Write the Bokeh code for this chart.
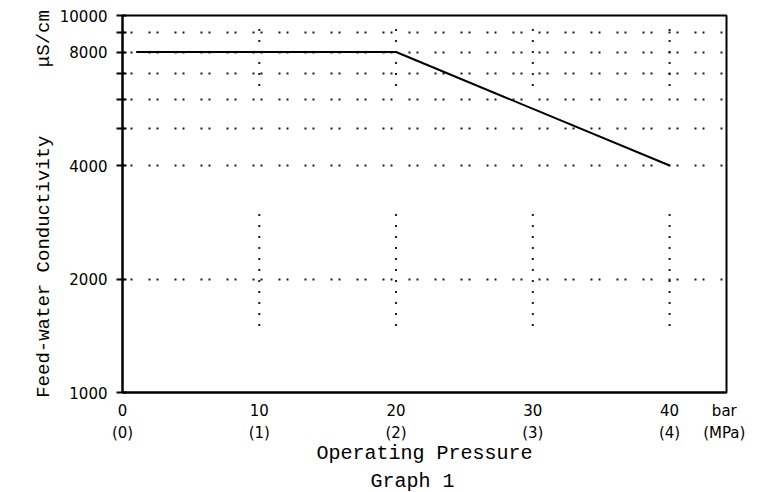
from bokeh.plotting import figure
from bokeh.models import Range1d, FixedTicker, LinearAxis, Title
from bokeh.embed import file_html
from bokeh.resources import INLINE

# ---- data ----
pressure_bar = [1, 20, 40]
conductivity = [8000, 8000, 4000]

x_ticks = [0, 10, 20, 30, 40, 44]
x_labels_bar = ["0", "10", "20", "30", "40", "bar"]
x_labels_mpa = ["(0)", "(1)", "(2)", "(3)", "(4)", "(MPa)"]

y_ticks = [1000, 2000, 4000, 5000, 6000, 7000, 8000, 9000, 10000]
y_labels = ["1000", "2000", "4000", "", "", "", "8000", "", "10000"]
y_grid_values = [2000, 4000, 5000, 6000, 7000, 8000, 9000]

vert_x = [10, 20, 30, 40]
vert_upper_lo = [6500, 6500, 6500, 6500]
vert_upper_hi = [9700, 9700, 9700, 9700]
vert_lower_lo = [1500, 1500, 1500, 1500]
vert_lower_hi = [3000, 3000, 3000, 3000]

y_title = "Feed-water Conductivity"
y_unit = "μS/cm"
x_title = "Operating Pressure"
caption = "Graph 1"

NB = "\u00a0"
X_MAX = 44.16

p = figure(width=758, height=492,
           x_range=Range1d(0, X_MAX), y_range=Range1d(1000, 10000),
           y_axis_type="log", output_backend="svg", toolbar_location=None,
           min_border_left=122, min_border_right=32, min_border_top=15,
           min_border_bottom=100)

p.outline_line_color = "black"
p.outline_line_width = 2
p.background_fill_color = "white"
p.border_fill_color = "white"

# grids
p.xgrid.visible = False
p.ygrid.ticker = FixedTicker(ticks=y_grid_values)
p.ygrid.grid_line_color = "#1a1a1a"
p.ygrid.grid_line_width = 2
p.ygrid.grid_line_dash = "2 6 2 16"

# vertical dotted segments
p.segment(x0=vert_x, y0=vert_upper_lo, x1=vert_x, y1=vert_upper_hi,
          line_color="#1a1a1a", line_width=2, line_dash="2 9")
p.segment(x0=vert_x, y0=vert_lower_lo, x1=vert_x, y1=vert_lower_hi,
          line_color="#1a1a1a", line_width=2, line_dash="2 9")

# main line
p.line(pressure_bar, conductivity, line_color="black", line_width=2)

mono = "Liberation Mono"

# y axis
ya = p.yaxis[0]
ya.ticker = FixedTicker(ticks=y_ticks)
ya.major_label_overrides = {t: l for t, l in zip(y_ticks, y_labels)}
ya.major_tick_in = 4
ya.major_tick_out = 6
ya.minor_tick_line_color = None
ya.axis_line_width = 2
ya.major_tick_line_width = 2
ya.major_label_text_font = "DejaVu Sans"
ya.major_label_text_font_size = "15px"
ya.major_label_text_color = "black"
ya.major_label_standoff = 9
ya.axis_label = y_title + NB * 6 + y_unit
ya.axis_label_text_font = mono
ya.axis_label_text_font_size = "19px"
ya.axis_label_text_font_style = "normal"
ya.axis_label_text_color = "black"
ya.axis_label_standoff = 2

# x axes (two stacked rows of labels)
xa = p.xaxis[0]
xa.ticker = FixedTicker(ticks=x_ticks)
xa.major_label_overrides = {t: l for t, l in zip(x_ticks, x_labels_bar)}
xa.major_tick_in = 0
xa.major_tick_out = 0
xa.minor_tick_line_color = None
xa.axis_line_width = 2
xa.major_label_text_font = "DejaVu Sans"
xa.major_label_text_font_size = "15px"
xa.major_label_text_color = "black"
xa.major_label_standoff = 9

xa2 = LinearAxis(ticker=FixedTicker(ticks=x_ticks),
                 major_label_overrides={t: l for t, l in zip(x_ticks, x_labels_mpa)})
xa2.axis_line_color = None
xa2.major_tick_line_color = None
xa2.major_tick_in = 0
xa2.major_tick_out = 0
xa2.minor_tick_line_color = None
xa2.major_label_text_font = "DejaVu Sans"
xa2.major_label_text_font_size = "15px"
xa2.major_label_text_color = "black"
xa2.major_label_standoff = 1
xa2.axis_label = x_title
xa2.axis_label_text_font = mono
xa2.axis_label_text_font_size = "20px"
xa2.axis_label_text_font_style = "normal"
xa2.axis_label_text_color = "black"
xa2.axis_label_standoff = -3
p.add_layout(xa2, "below")

p.add_layout(Title(text=caption + NB * 2, align="center", text_font=mono,
                   text_font_size="20px", text_font_style="normal",
                   text_color="black", standoff=0), "below")

open("out.html", "w").write(file_html(p, INLINE))
